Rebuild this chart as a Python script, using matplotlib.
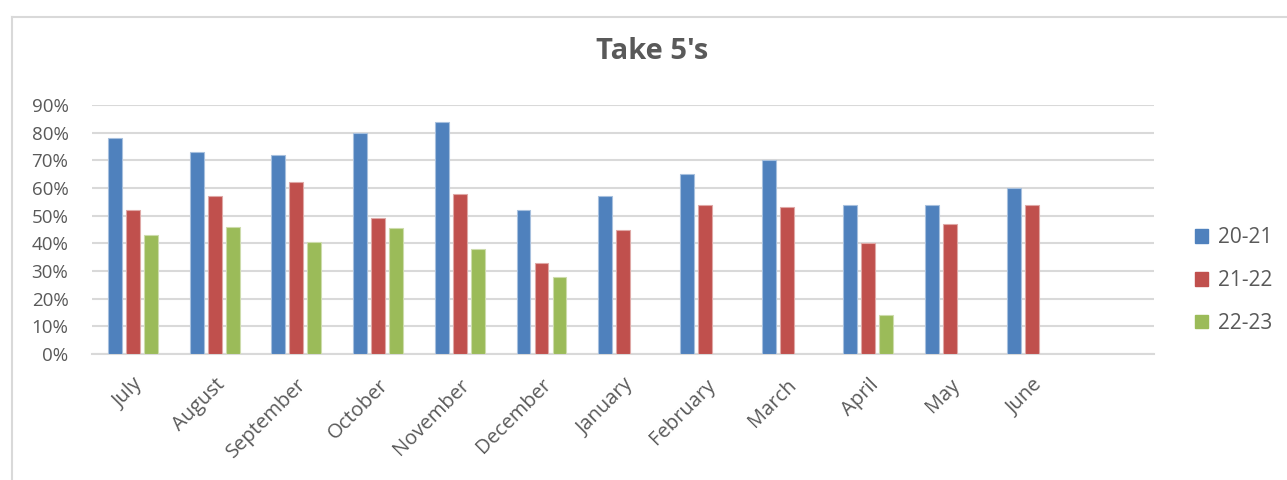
import matplotlib
matplotlib.use("Agg")
import matplotlib.pyplot as plt
from matplotlib.patches import Patch
import numpy as np

plt.rcParams["font.family"] = ["Open Sans", "DejaVu Sans"]

months = ["July", "August", "September", "October", "November", "December",
          "January", "February", "March", "April", "May", "June", ""]
s2021 = [0.78, 0.73, 0.72, 0.80, 0.84, 0.52, 0.57, 0.65, 0.70, 0.54, 0.54, 0.60, None]
s2122 = [0.52, 0.57, 0.62, 0.49, 0.58, 0.33, 0.45, 0.54, 0.53, 0.40, 0.47, 0.54, None]
s2223 = [0.43, 0.46, 0.405, 0.455, 0.38, 0.28, None, None, None, 0.14, None, None, None]
series_names = ["20-21", "21-22", "22-23"]
colors = ["#4f81bd", "#c0504d", "#9bbb59"]
edges = ["#a7c0de", "#dfa8a6", "#cddcac"]
yticks = np.arange(0, 0.91, 0.1)

TXT = "#595959"
GRID = "#d9d9d9"

fig = plt.figure(figsize=(12.87, 4.8), dpi=100)
ax = fig.add_axes([0.0715, 0.2625, 0.8255, 0.51875])

x = np.arange(len(months))
width = 0.17
step = 0.22
for i, (vals, c, ec) in enumerate(zip([s2021, s2122, s2223], colors, edges)):
    v = np.array([np.nan if a is None else a for a in vals], dtype=float)
    ax.bar(x + (i - 1) * step, v, width=width, color=c, edgecolor=ec,
           linewidth=0.8, zorder=3)

ax.set_xlim(-0.5, len(months) - 0.5)
ax.set_ylim(0, 0.9)
ax.set_yticks(yticks)
ax.set_yticklabels([f"{t * 100:.0f}%" for t in yticks], fontsize=13.5, color=TXT)
ax.set_xticks(x)
ax.set_xticklabels(months, rotation=45, ha="right", va="top",
                   rotation_mode="anchor", fontsize=14.5, color=TXT)
ax.tick_params(axis="y", length=0, pad=17)
ax.tick_params(axis="x", length=0, pad=15)
ax.grid(axis="y", color=GRID, linewidth=1.5, zorder=0)
for side in ("top", "right", "left"):
    ax.spines[side].set_visible(False)
ax.spines["bottom"].set_color(GRID)
ax.spines["bottom"].set_linewidth(1.5)

fig.text(0.507, 0.893, "Take 5's", ha="center", va="center",
         fontsize=21, fontweight="bold", color=TXT)

handles = [Patch(facecolor=c, edgecolor=c) for c in colors]
fig.legend(handles, series_names, loc="center left",
           bbox_to_anchor=(0.914, 0.415), frameon=False, fontsize=15,
           labelcolor=TXT, handlelength=0.6, handleheight=0.6,
           handletextpad=0.5, labelspacing=1.05)

# chart area frame
fig.add_artist(plt.Line2D([0.0093, 0.0093], [0, 0.965], color=GRID,
                          linewidth=1.5, transform=fig.transFigure))
fig.add_artist(plt.Line2D([0.0093, 1.0], [0.965, 0.965], color=GRID,
                          linewidth=1.5, transform=fig.transFigure))

fig.savefig("out.png", dpi=100)
